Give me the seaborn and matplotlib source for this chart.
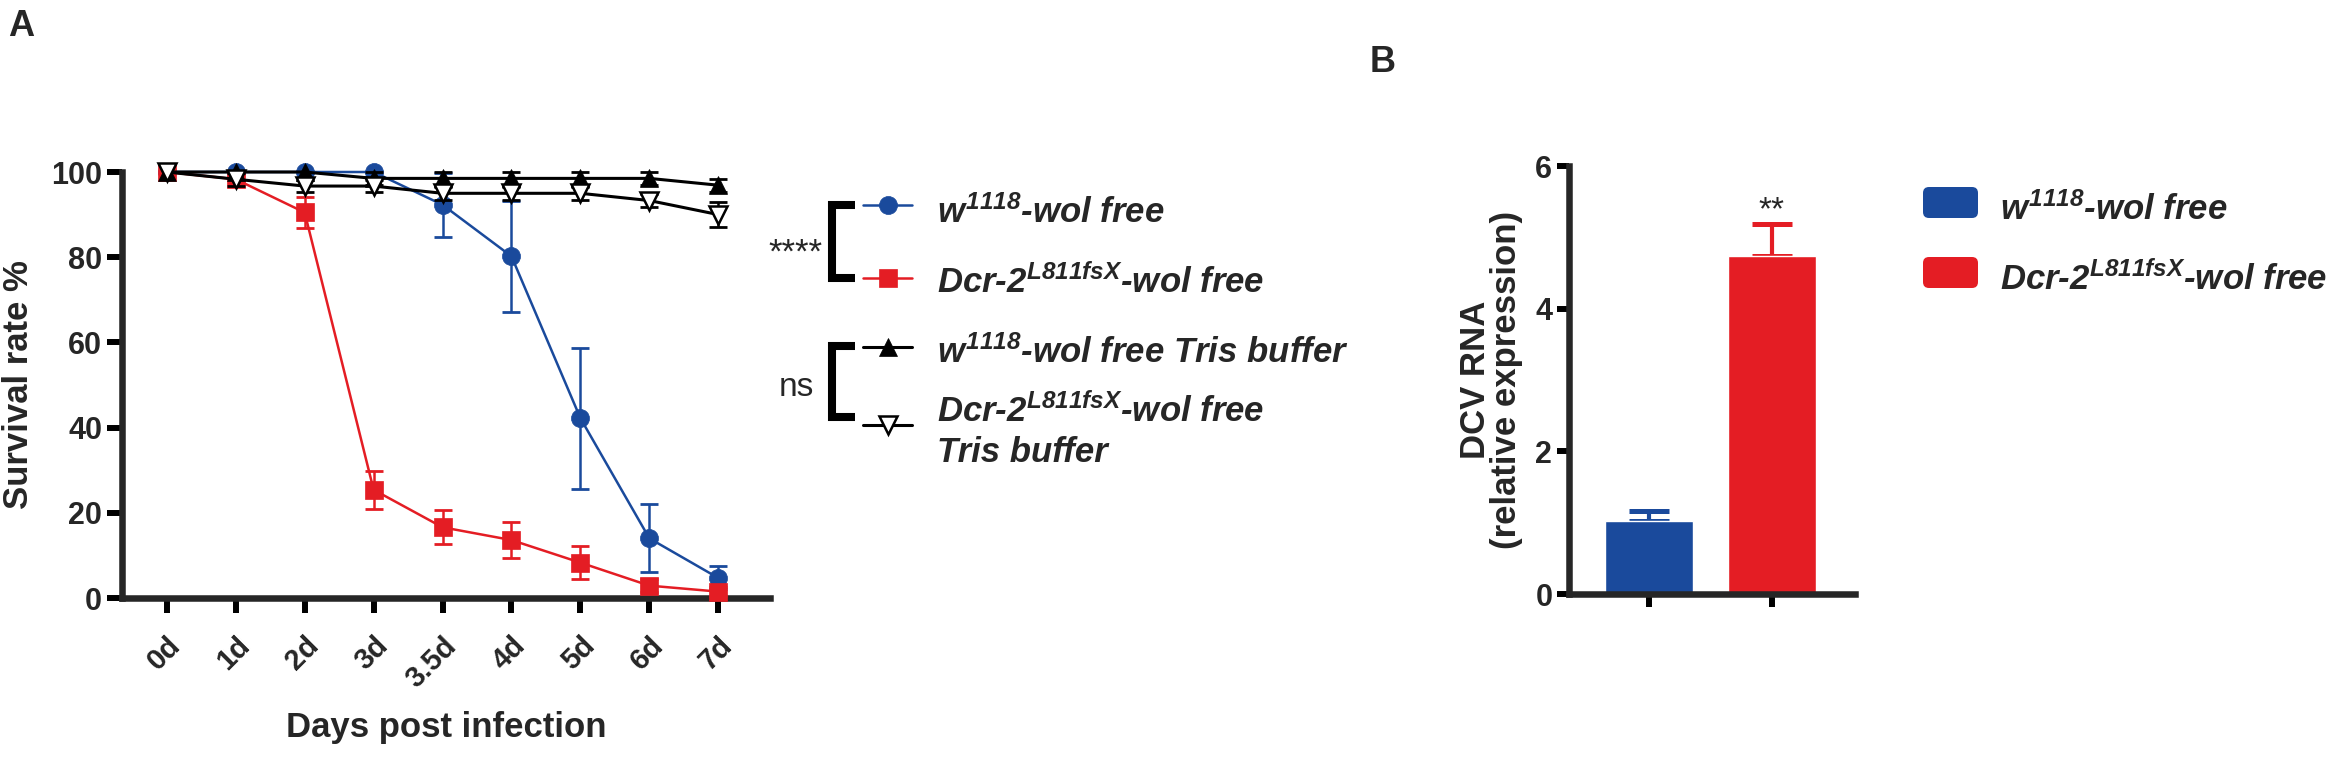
import numpy as np
import pandas as pd
import matplotlib
matplotlib.use("Agg")
import matplotlib.pyplot as plt
from matplotlib.lines import Line2D
from matplotlib.patches import FancyBboxPatch
from matplotlib.transforms import ScaledTranslation
import seaborn as sns

sns.set_style("ticks")
plt.rcParams["font.family"] = ["Liberation Sans", "DejaVu Sans"]
plt.rcParams["mathtext.fontset"] = "custom"
for k in ("rm", "it", "bf", "sf"):
    plt.rcParams["mathtext." + k] = "Liberation Sans:bold:italic"

BLUE = "#1A4A9C"
RED = "#E41D24"

# ---------------- data: panel A (survival) ----------------
days = ["0d", "1d", "2d", "3d", "3.5d", "4d", "5d", "6d", "7d"]
w_free = [100, 100, 100, 100, 92.3, 80.2, 42.2, 14.0, 4.7]
w_free_err = [0, 0, 0, 0, 7.5, 13.0, 16.6, 8.0, 2.7]
dcr_free = [100, 98.3, 90.5, 25.4, 16.6, 13.6, 8.3, 2.9, 1.5]
dcr_free_err = [0, 0, 3.6, 4.5, 4.0, 4.2, 3.9, 1.5, 1.0]
w_tris = [100, 100, 100, 98.5, 98.5, 98.5, 98.5, 98.5, 96.9]
w_tris_err = [0, 0, 0, 1.5, 1.5, 1.5, 1.5, 1.5, 1.5]
dcr_tris = [100, 98.3, 96.7, 96.7, 95.0, 95.0, 95.0, 93.3, 90.0]
dcr_tris_err = [0, 1.5, 1.5, 1.5, 1.5, 1.5, 1.5, 1.5, 3.0]

# ---------------- data: panel B (DCV RNA) ----------------
genotypes = ["w1118-wol free", "Dcr-2 L811fsX-wol free"]
dcv_rna = [1.03, 4.74]
dcv_err = [0.14, 0.45]

fig = plt.figure(figsize=(23.44, 7.64), dpi=100)
W, H = 2344, 764

def px_axes(left, top, right, bottom):
    return fig.add_axes([left / W, 1 - bottom / H, (right - left) / W, (bottom - top) / H])

# ---------------- panel A ----------------
ax = px_axes(122, 172, 770, 598)
series = [
    (w_free, w_free_err, BLUE, "o", BLUE, 1.8),
    (dcr_free, dcr_free_err, RED, "s", RED, 1.8),
    (w_tris, w_tris_err, "black", "^", "black", 2.2),
    (dcr_tris, dcr_tris_err, "black", "v", "white", 2.2),
]
for i, (vals, errs, c, m, fc, lw) in enumerate(series):
    df = pd.DataFrame({"day": days, "rate": vals, "err": errs})
    sns.lineplot(data=df, x="day", y="rate", sort=False, errorbar=None, ax=ax,
                 color=c, lw=lw, marker=m, markersize=13, markerfacecolor=fc,
                 markeredgecolor=c, markeredgewidth=1.8 if fc == "white" else 0.5,
                 clip_on=False, zorder=3 + i * 0.2)
    e = df[df["err"] > 0]
    ax.errorbar(e["day"], e["rate"], yerr=e["err"], fmt="none", ecolor=c,
                elinewidth=1.8, capsize=6.8, capthick=2.0, clip_on=False,
                zorder=2.9 + i * 0.2)

ax.set_xlim(-0.65, 8.75)
ax.set_ylim(0, 100)
ax.set_yticks([0, 20, 40, 60, 80, 100])
ax.set_xticks(range(len(days)))
ax.set_xticklabels(days, rotation=45, ha="right", va="top", rotation_mode="anchor")
for lbl in ax.get_xticklabels():
    lbl.set_transform(lbl.get_transform() + ScaledTranslation(0.08, 0, fig.dpi_scale_trans))
ax.set_xlabel("Days post infection", fontsize=25, fontweight="bold")
ax.set_ylabel("Survival rate %", fontsize=25, fontweight="bold")
ax.xaxis.set_label_coords(0.5, -0.265)
ax.yaxis.set_label_coords(-0.134, 0.5)
ax.tick_params(axis="x", pad=13.5)
ax.tick_params(axis="y", pad=3.5)

# ---------------- panel B ----------------
axb = px_axes(1569, 166, 1855, 594)
dfb = pd.DataFrame({"genotype": genotypes, "rna": dcv_rna, "err": dcv_err})
sns.barplot(data=dfb, x="genotype", y="rna", hue="genotype", palette=[BLUE, RED],
            width=0.72, saturation=1, legend=False, ax=axb, zorder=2)
for g, v, e, c in zip(genotypes, dcv_rna, dcv_err, [BLUE, RED]):
    axb.errorbar([g], [v], yerr=[[0], [e]], fmt="none", ecolor=c, elinewidth=3,
                 capsize=14.5, capthick=3.6, zorder=1.5)
axb.text(1, 5.26, "**", ha="center", va="baseline", fontsize=24)
axb.set_xlim(-0.65, 1.675)
axb.set_ylim(0, 6)
axb.set_yticks([0, 2, 4, 6])
axb.set_xticks([0, 1])
axb.set_xticklabels(["", ""])
axb.set_xlabel("")
axb.set_ylabel("DCV RNA\n(relative expression)", fontsize=25, fontweight="bold",
               linespacing=0.95)
axb.yaxis.set_label_coords(-0.16, 0.5)
axb.tick_params(axis="y", pad=3)

for a, tl in ((ax, 10.8), (axb, 9)):
    sns.despine(ax=a)
    for s in ("left", "bottom"):
        a.spines[s].set_linewidth(4.7)
        a.spines[s].set_capstyle("projecting")
    a.tick_params(width=4.3, length=tl, labelsize=22, color="black")
    for lbl in a.get_xticklabels() + a.get_yticklabels():
        lbl.set_fontweight("bold")
ax.tick_params(axis="x", labelsize=21)

# ---------------- annotations / legends in pixel space ----------------
ov = fig.add_axes([0, 0, 1, 1])
ov.set_xlim(0, W)
ov.set_ylim(H, 0)
ov.axis("off")

ov.text(21, 27, "A", fontsize=26, fontweight="bold", ha="center", va="center")
ov.text(1383, 63, "B", fontsize=26, fontweight="bold", ha="center", va="center")

def bracket(top, bottom):
    ov.add_line(Line2D([855, 832, 832, 855], [top, top, bottom, bottom], color="black",
                       lw=5.8, solid_joinstyle="miter", solid_capstyle="butt"))

def key(y, c, m, fc, lw):
    ov.add_line(Line2D([863, 912], [y, y], color=c, lw=lw))
    ov.add_line(Line2D([887.5], [y], marker=m, markersize=13, markerfacecolor=fc,
                       markeredgecolor=c, markeredgewidth=1.8 if fc == "white" else 0.5))

leg_font = dict(fontsize=25, fontweight="bold", fontstyle="italic", va="baseline", ha="left")
bracket(205, 278)
key(205, BLUE, "o", BLUE, 1.8)
key(278, RED, "s", RED, 1.8)
ov.text(822, 263, "****", fontsize=25, ha="right", va="baseline")
ov.text(937, 223, "$w^{1118}$-wol free", **leg_font)
ov.text(937, 293, "Dcr-2$^{L811fsX}$-wol free", **leg_font)

bracket(346, 417)
key(347, "black", "^", "black", 2.2)
key(425, "black", "v", "white", 2.2)
ov.text(814, 396, "ns", fontsize=24, ha="right", va="baseline")
ov.text(937, 363, "$w^{1118}$-wol free Tris buffer", **leg_font)
ov.text(937, 422, "Dcr-2$^{L811fsX}$-wol free", **leg_font)
ov.text(937, 462, "Tris buffer", **leg_font)

for y, c in ((187, BLUE), (257, RED)):
    ov.add_patch(FancyBboxPatch((1923, y), 55, 31, boxstyle="round,pad=0,rounding_size=6",
                                facecolor=c, edgecolor="none"))
ov.text(2000, 220, "$w^{1118}$-wol free", **leg_font)
ov.text(2000, 290, "Dcr-2$^{L811fsX}$-wol free", **leg_font)

fig.savefig("out.png", dpi=100)
